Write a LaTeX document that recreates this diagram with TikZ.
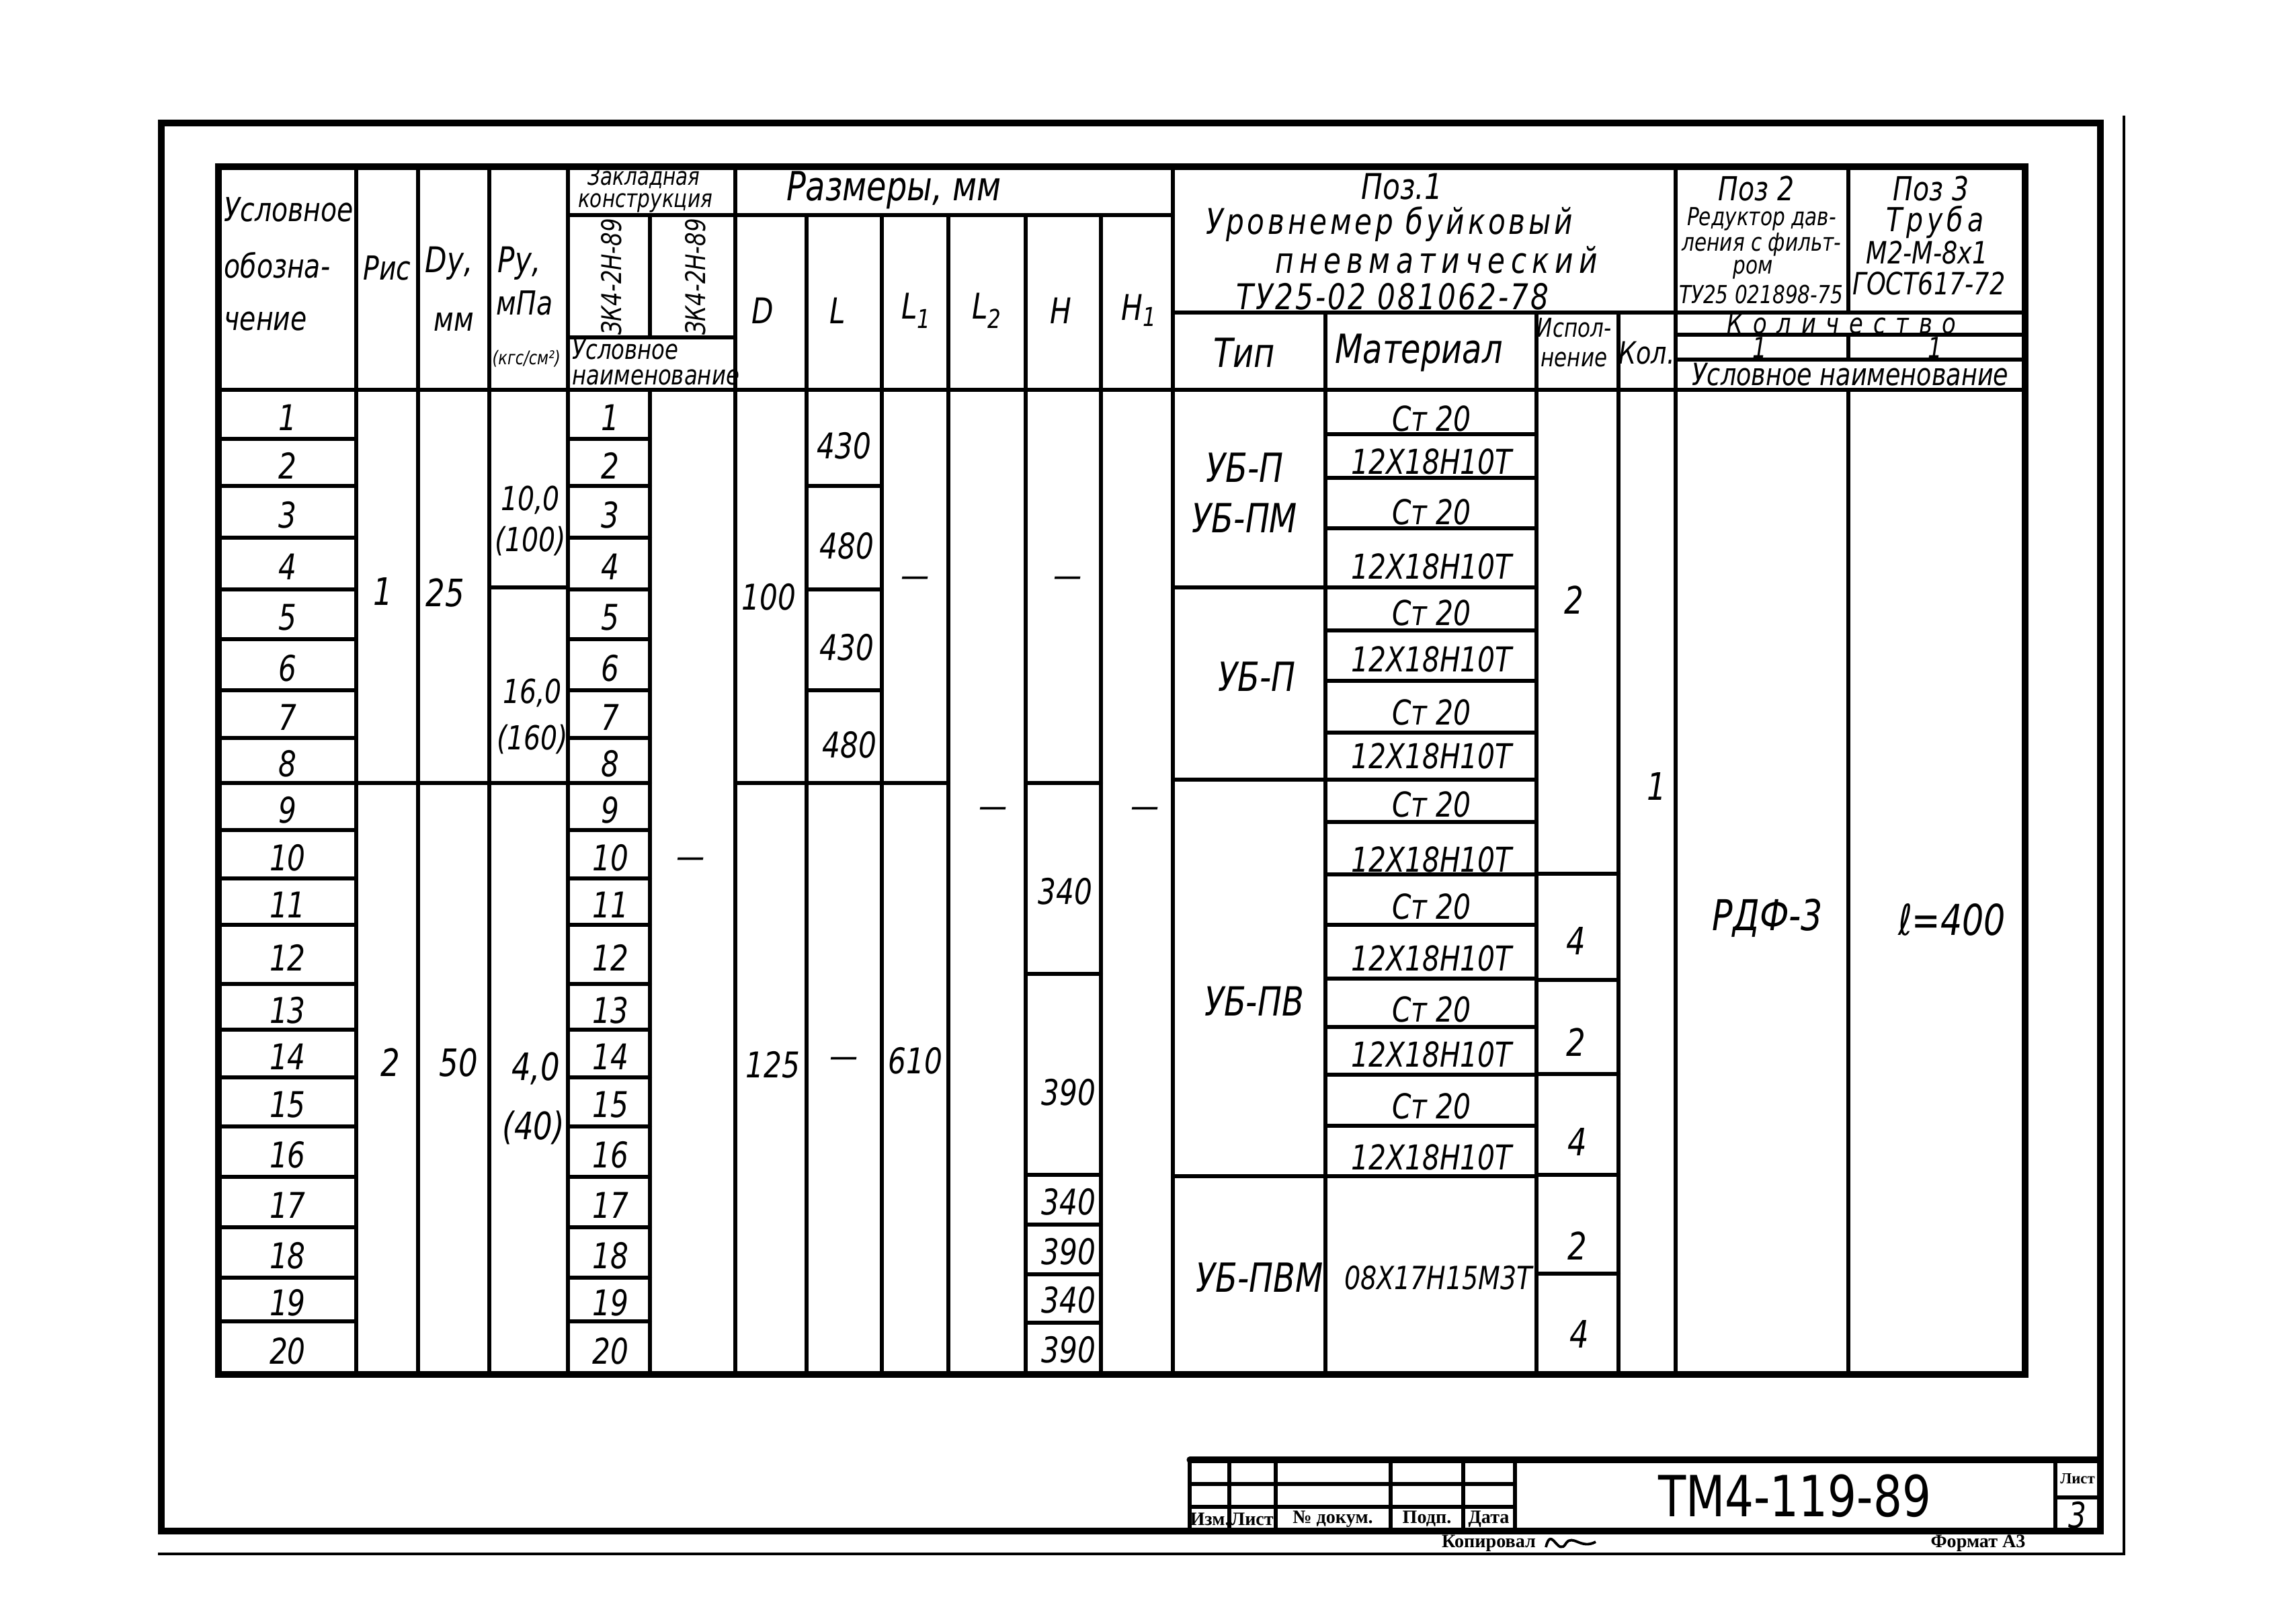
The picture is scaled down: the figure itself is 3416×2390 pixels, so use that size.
\documentclass[tikz,border=0pt]{standalone}
\usepackage{fontspec}
\setmainfont{DejaVu Sans}[FakeStretch=0.8]
\newfontfamily\tbfont{Liberation Serif}
\tikzset{
  ln/.style={line width=1.7pt, line cap=round},
  thk/.style={line width=2.6pt, line cap=round},
  thn/.style={line width=1.1pt},
  T/.style={inner sep=0pt, font=\itshape\fontsize{#1}{#1}\selectfont},
  TB/.style={inner sep=0pt, font=\tbfont\bfseries\fontsize{#1}{#1}\selectfont},
}
\newcommand{\lsp}[1]{\addfontfeature{LetterSpace=#1}}
\begin{document}
\begin{tikzpicture}[x=0.01cm,y=-0.01cm]
\useasboundingbox (0,0) rectangle (3416,2390);
\fill[white] (0,0) rectangle (3416,2390);
% sheet frame
\draw[thk] (240,183) -- (3125,183) -- (3125,2278) -- (240,2278) -- cycle;
\draw[thn] (235,2312) -- (3162,2312);
\draw[thn] (3160,172) -- (3160,2314);
% table outline
\draw[thk] (325,248) rectangle (3013,2045);
% header horizontals
\draw[ln] (325,580) -- (3013,580);
\draw[ln] (845,320) -- (1745,320);
\draw[ln] (845,502) -- (1094,502);
\draw[ln] (1745,465) -- (3013,465);
\draw[ln] (2493,498) -- (3013,498);
\draw[ln] (2493,535) -- (3013,535);
% verticals
\foreach \x in {530,622,728,845,1094,1745,2493} \draw[ln] (\x,248) -- (\x,2045);
\draw[ln] (967,320) -- (967,502);
\draw[ln] (967,580) -- (967,2045);
\foreach \x in {1200,1312,1411,1526,1638} \draw[ln] (\x,320) -- (\x,2045);
\foreach \x in {1972,2286,2408} \draw[ln] (\x,465) -- (\x,2045);
\draw[ln] (2750,248) -- (2750,465);
\draw[ln] (2750,498) -- (2750,535);
\draw[ln] (2750,580) -- (2750,2045);
% row lines
\foreach \y in {653,723,800,877,951,1027,1098,1165,1235,1307,1376,1464,1532,1603,1676,1751,1826,1901,1966}
  {\draw[ln] (325,\y) -- (530,\y); \draw[ln] (845,\y) -- (967,\y);}
\draw[ln] (530,1165) -- (845,1165);
\draw[ln] (728,874) -- (845,874);
\draw[ln] (1094,1165) -- (1200,1165);
\foreach \y in {723,877,1027,1165} \draw[ln] (1200,\y) -- (1312,\y);
\draw[ln] (1312,1165) -- (1411,1165);
\foreach \y in {1165,1449,1748,1822,1896,1968} \draw[ln] (1526,\y) -- (1638,\y);
\foreach \y in {874,1160,1750} \draw[ln] (1745,\y) -- (1972,\y);
\foreach \y in {646,711,786,874,938,1013,1090,1160,1223,1301,1376,1456,1528,1599,1675,1750} \draw[ln] (1972,\y) -- (2286,\y);
\foreach \y in {1300,1458,1598,1748,1895} \draw[ln] (2286,\y) -- (2408,\y);
% title block
\draw[thk] (1770,2172) -- (3125,2172);
\draw[ln] (1770,2172) -- (1770,2278);
\foreach \x in {1829,1898,2069,2177,2254,3058} \draw[ln] (\x,2172) -- (\x,2278);
\draw[ln] (1770,2208) -- (2254,2208);
\draw[ln] (1770,2242) -- (2254,2242);
\draw[ln] (3058,2228) -- (3125,2228);

% ---------- header texts
\node[T=14, anchor=west] (h1a) at (333,312) {Условное};
\node[T=14, anchor=west] (h1b) at (333,395) {обозна-};
\node[T=14, anchor=west] (h1c) at (333,478) {чение};
\node[T=14] (h2) at (576,399) {Рис};
\node[T=15, anchor=west] (h3a) at (632,392) {Dу,};
\node[T=14, anchor=west] (h3b) at (645,479) {мм};
\node[T=15, anchor=west] (h4a) at (740,392) {Ру,};
\node[T=14, anchor=west] (h4b) at (738,451) {мПа};
\node[T=8, anchor=west] (h4c) at (732,534) {(кгс/см²)};
\node[T=10.5] (h5a) at (958,264) {Закладная};
\node[T=10.5] (h5b) at (960,302) {конструкция};
\node[T=11.5, rotate=90] (h5c) at (910,412) {ЗК4-2Н-89};
\node[T=11.5, rotate=90] (h5d) at (1035,412) {ЗК4-2Н-89};
\node[T=11.5, anchor=west] (h5e) at (851,520) {Условное};
\node[T=11.5, anchor=west] (h5f) at (851,561) {наименование};
\node[T=17] (h6) at (1330,283) {Размеры, мм};
\node[T=15] (hD) at (1135,462) {D};
\node[T=15] (hL) at (1246,462) {L};
\node[T=15] (hL1) at (1363,462) {L\raisebox{-0.5ex}{\fontsize{11}{11}\selectfont 1}};
\node[T=15] (hL2) at (1468,462) {L\raisebox{-0.5ex}{\fontsize{11}{11}\selectfont 2}};
\node[T=15] (hH) at (1578,462) {H};
\node[T=15] (hH1) at (1694,462) {H\raisebox{-0.3ex}{\fontsize{11}{11}\selectfont 1}};
\node[T=15] (p1a) at (2086,278) {Поз.1};
\node[T=15] (p1b) at (2067,333) {\lsp{9}Уровнемер буйковый};
\node[T=15] (p1c) at (2137,387) {\lsp{16}пневматический};
\node[T=15] (p1d) at (2072,441) {\lsp{6}ТУ25-02 081062-78};
\node[T=17] (p1e) at (1851,525) {Тип};
\node[T=17] (p1f) at (2111,525) {Материал};
\node[T=11] (p1g) at (2342,488) {Испол-};
\node[T=11] (p1h) at (2342,535) {нение};
\node[T=13] (p1i) at (2450,525) {Кол.};
\node[T=14] (p2a) at (2613,281) {Поз 2};
\node[T=10.5] (p2b) at (2621,326) {Редуктор дав-};
\node[T=10.5] (p2c) at (2621,364) {ления с фильт-};
\node[T=10.5] (p2d) at (2608,401) {ром};
\node[T=10.5] (p2e) at (2620,438) {ТУ25 021898-75};
\node[T=14] (p3a) at (2873,281) {Поз 3};
\node[T=14] (p3b) at (2879,330) {\lsp{12}Труба};
\node[T=13] (p3c) at (2867,376) {М2-М-8х1};
\node[T=13] (p3d) at (2870,422) {ГОСТ617-72};
\node[T=12] (k1) at (2740,481) {\lsp{35}Количество};
\node[T=12] (k2) at (2618,517) {1};
\node[T=12] (k3) at (2879,517) {1};
\node[T=13] (k4) at (2753,557) {Условное наименование};

% ---------- body texts
\foreach \i/\y in {1/621,2/693,3/766,4/843,5/919,6/994,7/1067,8/1136,9/1205,10/1276,11/1346,12/1425,13/1503,14/1572,15/1644,16/1718,17/1793,18/1868,19/1938,20/2010}
  {\node[T=15] (a\i) at (428,\y) {\i}; \node[T=15] (b\i) at (908,\y) {\i};}
\node[T=16] (ris1) at (570,880) {1};
\node[T=16] (ris2) at (581,1581) {2};
\node[T=16] (dy1) at (662,882) {25};
\node[T=16] (dy2) at (682,1581) {50};
\node[T=14] (py1a) at (789,744) {10,0};
\node[T=14] (py1b) at (789,805) {(100)};
\node[T=14] (py2a) at (792,1031) {16,0};
\node[T=14] (py2b) at (792,1100) {(160)};
\node[T=16] (py3a) at (797,1590) {4,0};
\node[T=16] (py3b) at (794,1678) {(40)};
\node[T=15] (zk2) at (1028,1284) {—};
\node[T=15] (d1) at (1144,888) {100};
\node[T=15] (d2) at (1150,1584) {125};
\node[T=15] (l1) at (1256,663) {430};
\node[T=15] (l2) at (1260,812) {480};
\node[T=15] (l3) at (1260,963) {430};
\node[T=15] (l4) at (1264,1108) {480};
\node[T=15] (l5) at (1256,1581) {—};
\node[T=15] (la1) at (1362,866) {—};
\node[T=15] (la2) at (1362,1578) {610};
\node[T=15] (lb1) at (1478,1209) {—};
\node[T=15] (hh1) at (1704,1209) {—};
\node[T=15] (ha1) at (1589,866) {—};
\node[T=15] (ha2) at (1585,1326) {340};
\node[T=15] (ha3) at (1590,1625) {390};
\node[T=15] (ha4) at (1590,1788) {340};
\node[T=15] (ha5) at (1590,1862) {390};
\node[T=15] (ha6) at (1590,1934) {340};
\node[T=15] (ha7) at (1590,2008) {390};
\node[T=17] (ty1) at (1852,696) {УБ-П};
\node[T=17] (ty2) at (1852,771) {УБ-ПМ};
\node[T=17] (ty3) at (1870,1007) {УБ-П};
\node[T=17] (ty4) at (1866,1490) {УБ-ПВ};
\node[T=17] (ty5) at (1874,1901) {УБ-ПВМ};
\foreach \j/\y/\t in {1/623/Ст 20,2/687/12Х18Н10Т,3/762/Ст 20,4/843/12Х18Н10Т,5/912/Ст 20,6/981/12Х18Н10Т,7/1060/Ст 20,8/1125/12Х18Н10Т,9/1197/Ст 20,10/1279/12Х18Н10Т,11/1349/Ст 20,12/1426/12Х18Н10Т,13/1502/Ст 20,14/1569/12Х18Н10Т,15/1646/Ст 20,16/1722/12Х18Н10Т}
  {\node[T=14.5] (m\j) at (2130,\y) {\t};}
\node[T=13.5] (m17) at (2140,1901) {08Х17Н15М3Т};
\node[T=16] (e1) at (2342,893) {2};
\node[T=16] (e2) at (2345,1400) {4};
\node[T=16] (e3) at (2345,1551) {2};
\node[T=16] (e4) at (2347,1699) {4};
\node[T=16] (e5) at (2347,1854) {2};
\node[T=16] (e6) at (2350,1985) {4};
\node[T=16] (kol) at (2465,1170) {1};
\node[T=18] (rdf) at (2630,1366) {РДФ-3};
\node[T=18] (len) at (2904,1368) {ℓ=400};

% ---------- title block texts
\node[TB=8] (s1) at (1800,2260) {Изм.};
\node[TB=8] (s2) at (1863,2260) {Лист};
\node[TB=8] (s3) at (1983,2260) {№ докум.};
\node[TB=8] (s4) at (2123,2260) {Подп.};
\node[TB=8] (s5) at (2215,2260) {Дата};
\node[inner sep=0pt, font=\upshape\fontsize{24}{24}\selectfont] (tm) at (2670,2226) {ТМ4-119-89};
\node[TB=6.5] (s6) at (3091,2200) {Лист};
\node[T=15] (s7) at (3091,2254) {3};
\node[TB=8] (s8) at (2215,2296) {Копировал};
\node[TB=8] (s9) at (2943,2296) {Формат А3};
\draw[thn] (2300,2302) .. controls (2308,2268) and (2318,2318) .. (2330,2296) .. controls (2340,2282) and (2352,2306) .. (2374,2294);
\end{tikzpicture}
\end{document}
